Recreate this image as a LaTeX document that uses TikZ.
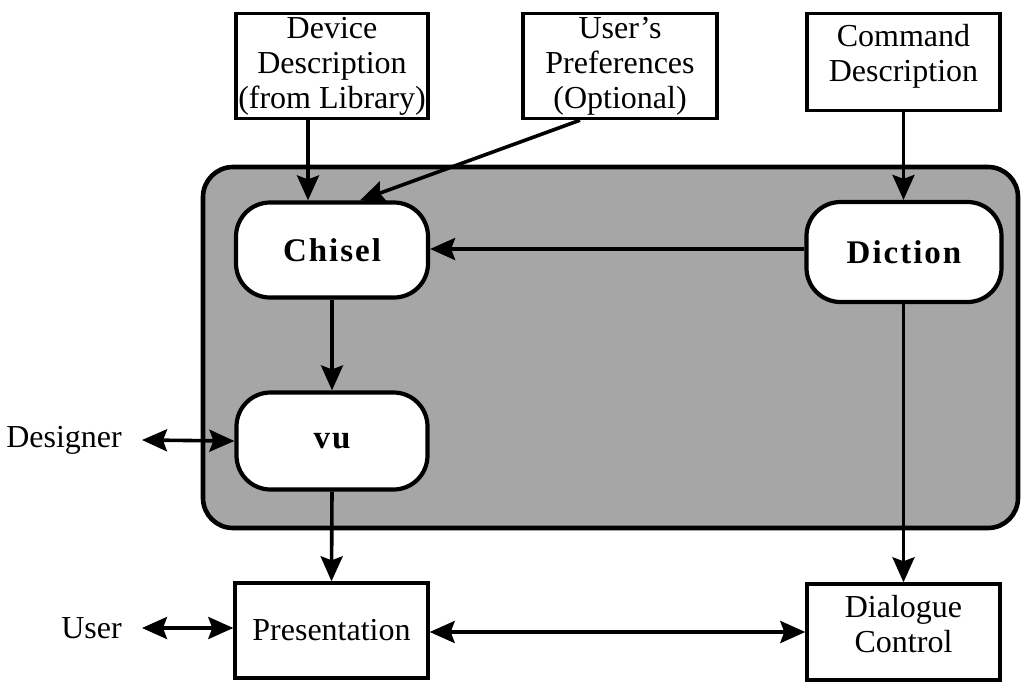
\documentclass[tikz,border=0pt]{standalone}
\usepackage{fontspec}
\setmainfont{Liberation Serif}
\usetikzlibrary{arrows.meta,positioning}
\tikzset{
  tip/.tip={Stealth[length=25pt,width=22pt,inset=4pt]},
  box/.style={draw, line width=3.4pt, fill=white, align=center, inner sep=0pt,
    font=\fontsize{32}{35}\selectfont},
  tool/.style={draw, line width=4.2pt, fill=white, rounded corners=34pt, inner sep=0pt,
    font=\addfontfeatures{LetterSpace=6}\fontsize{33}{36}\selectfont\bfseries},
  panel/.style={draw, line width=4.6pt, fill=gray!70, rounded corners=30pt},
  actor/.style={font=\fontsize{32}{35}\selectfont, inner sep=0pt},
  arr/.style={line width=3.6pt, -tip},
  biarr/.style={line width=3.6pt, tip-tip}
}
\begin{document}
\begin{tikzpicture}[x=1pt,y=-1pt]
\useasboundingbox (0,0) rectangle (1021,681);

% shaded region holding the two generators and vu
\draw[panel] (203,167) rectangle (1018,528);

% inputs
\node[box, minimum width=192pt, minimum height=105pt] (dev) at (332,66)
  {Device\\Description\\(from Library)};
\node[box, minimum width=194pt, minimum height=105pt] (pref) at (620,66)
  {User's\\Preferences\\(Optional)};
\node[box, minimum width=193pt, minimum height=97pt, text depth=19pt] (cmd) at (903.5,62)
  {Command\\Description};

% tools
\node[tool, minimum width=192pt, minimum height=95pt] (chisel) at (332,250) {Chisel};
\node[tool, minimum width=195pt, minimum height=100pt] (diction) at (904,252) {Diction};
\node[tool, minimum width=191pt, minimum height=97pt] (vu) at (332,441) {vu};

% run-time components
\node[box, minimum width=193pt, minimum height=95pt] (pres) at (331.5,630.5) {Presentation};
\node[box, minimum width=193pt, minimum height=96pt, text depth=16pt] (dlg) at (903.5,632)
  {Dialogue\\Control};

% people
\node[actor, anchor=east] (designer) at (122,440) {Designer};
\node[actor, anchor=east] (user) at (122,628) {User};

% connectors
\draw[arr] ([xshift=-24pt]dev.south) -- ([xshift=-24pt]chisel.north);
\draw[arr] ([xshift=-40pt]pref.south) -- ([xshift=28pt]chisel.north);
\draw[arr] (cmd.south) -- (cmd.south |- diction.north);
\draw[arr] (diction.west |- 0,249) -- (chisel.east |- 0,249);
\draw[arr] (chisel.south) -- (vu.north);
\draw[arr] (vu.south) -- (pres.north);
\draw[arr] (diction.south -| dlg.north) -- (dlg.north);
\draw[biarr] ([xshift=20pt]designer.east) -- (vu.west);
\draw[biarr] ([xshift=20pt]user.east) -- (pres.west |- user.east);
\draw[biarr] (pres.east |- dlg.west) -- (dlg.west);
\end{tikzpicture}
\end{document}
